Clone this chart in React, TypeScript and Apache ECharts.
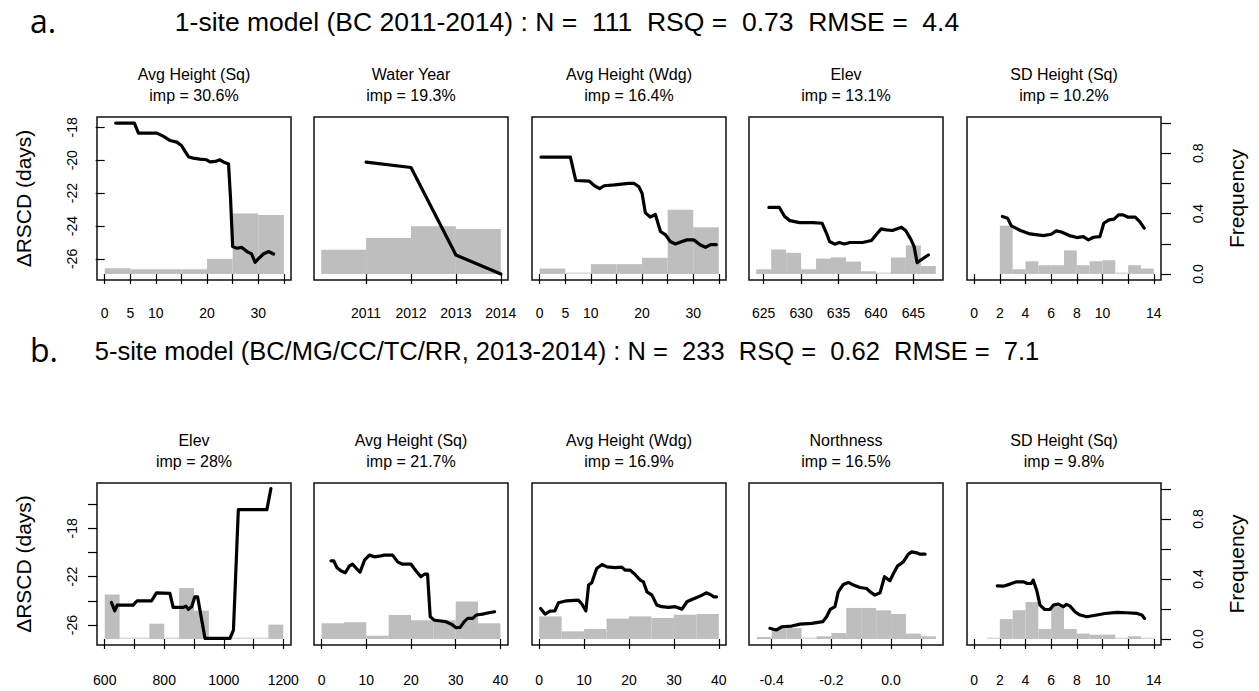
import React, { useEffect, useRef } from "react";
import * as echarts from "echarts";

// ---------- Data ----------
// Row a: 1-site model
const A1_LINE_X = [2.15, 5.8, 6.6, 10.2, 11.5, 12.8, 14.1, 15.0, 15.7, 16.4, 17.3, 18.6, 19.9, 20.6, 21.6, 22.5, 23.2, 24.2, 24.6, 25.0, 25.8, 26.8, 27.8, 28.4, 28.7, 29.4, 30.0, 31.0, 32.0, 33.0];
const A1_LINE_Y = [-17.74, -17.74, -18.35, -18.35, -18.55, -18.8, -18.9, -19.1, -19.46, -19.8, -19.87, -19.93, -19.97, -20.1, -20.07, -19.97, -20.1, -20.23, -22.4, -25.25, -25.35, -25.3, -25.55, -25.65, -25.7, -26.2, -26.0, -25.7, -25.55, -25.7];
const A1_EDGES = [0, 5, 10, 15, 20, 25, 30, 35];
const A1_FREQ = [0.038, 0.031, 0.031, 0.031, 0.1, 0.4, 0.39];

const A2_LINE_X = [2011, 2012, 2013, 2014];
const A2_LINE_Y = [-20.11, -20.44, -25.76, -26.91];
const A2_EDGES = [2010, 2011, 2012, 2013, 2014];
const A2_FREQ = [0.16, 0.238, 0.316, 0.298];

const A3_LINE_X = [0.26, 6.0, 7.05, 9.7, 10.7, 11.7, 12.6, 14.6, 17.4, 18.4, 19.35, 20.0, 20.65, 21.6, 22.6, 23.6, 24.6, 25.5, 26.5, 27.8, 28.8, 30.1, 31.4, 32.4, 33.4, 34.5];
const A3_LINE_Y = [-19.81, -19.81, -21.23, -21.27, -21.55, -21.72, -21.55, -21.5, -21.4, -21.4, -21.6, -22.0, -23.2, -23.45, -23.3, -24.33, -24.54, -24.94, -25.09, -24.94, -24.84, -24.84, -25.15, -25.29, -25.13, -25.13];
const A3_EDGES = [0, 5, 10, 15, 20, 25, 30, 35];
const A3_FREQ = [0.036, 0.007, 0.065, 0.065, 0.107, 0.425, 0.31];

const A4_LINE_X = [625.7, 627.1, 627.8, 628.5, 629.8, 631.6, 632.8, 633.4, 633.8, 634.5, 635.1, 635.8, 636.5, 638.2, 639.4, 640.0, 640.7, 641.4, 642.2, 643.4, 644.0, 644.7, 645.1, 645.5, 646.2, 647.0];
const A4_LINE_Y = [-22.87, -22.87, -23.42, -23.67, -23.79, -23.79, -23.83, -24.44, -24.94, -25.1, -25.0, -25.09, -25.0, -25.0, -24.88, -24.54, -24.17, -24.23, -24.27, -24.07, -24.29, -24.84, -25.25, -26.22, -26.0, -25.76];
const A4_EDGES = [624, 626, 628, 630, 632, 634, 636, 638, 640, 642, 644, 646, 648];
const A4_FREQ = [0.031, 0.162, 0.14, 0.031, 0.102, 0.11, 0.082, 0.018, 0.007, 0.109, 0.189, 0.053];

const A5_LINE_X = [2.2, 2.6, 2.9, 3.6, 4.35, 5.4, 6.0, 6.4, 6.8, 7.5, 8.0, 8.5, 8.9, 9.3, 9.8, 10.1, 10.5, 10.9, 11.25, 11.6, 12.0, 12.55, 12.9, 13.25];
const A5_LINE_Y = [-23.42, -23.52, -23.99, -24.27, -24.48, -24.58, -24.5, -24.29, -24.36, -24.6, -24.7, -24.64, -24.84, -24.68, -24.64, -23.83, -23.62, -23.58, -23.32, -23.32, -23.46, -23.46, -23.73, -24.13];
const A5_EDGES = [2, 3, 4, 5, 6, 7, 8, 9, 10, 11, 12, 13, 14];
const A5_FREQ = [0.32, 0.031, 0.084, 0.058, 0.058, 0.156, 0.058, 0.084, 0.091, 0.004, 0.058, 0.036];

// Row b: 5-site model
const B1_LINE_X = [622.5, 633.7, 641.6, 695.5, 709, 757.3, 774, 819, 830, 864, 873, 881, 892, 903, 912, 920, 937, 1021, 1032.6, 1049, 1145, 1158.4];
const B1_LINE_Y = [-24.13, -24.82, -24.35, -24.35, -23.99, -23.99, -23.33, -23.38, -24.54, -24.54, -24.43, -24.7, -24.48, -23.66, -23.66, -24.76, -27.1, -27.1, -26.41, -16.44, -16.44, -14.71];
const B1_EDGES = [600, 650, 700, 750, 800, 850, 900, 950, 1000, 1050, 1100, 1150, 1200];
const B1_FREQ = [0.296, 0, 0, 0.102, 0, 0.34, 0.189, 0, 0, 0, 0, 0.096];

const B2_LINE_X = [2.1, 2.7, 3.4, 4.3, 5.3, 6.2, 6.9, 7.8, 8.6, 9.6, 10.7, 11.8, 12.9, 14.0, 15.9, 17.0, 18.1, 20.0, 21.1, 22.2, 23.0, 23.7, 24.3, 25.2, 26.3, 27.8, 29.0, 30.1, 31.0, 31.9, 32.7, 33.8, 34.6, 36.0, 37.4, 38.7];
const B2_LINE_Y = [-20.68, -20.68, -21.23, -21.51, -21.67, -21.12, -20.96, -21.32, -21.62, -20.63, -20.21, -20.35, -20.3, -20.21, -20.21, -20.77, -20.96, -20.96, -21.51, -22.0, -21.79, -21.79, -25.31, -25.59, -25.64, -25.72, -25.92, -26.22, -26.19, -25.72, -25.45, -25.45, -25.17, -25.09, -24.98, -24.9];
const B2_EDGES = [0, 5, 10, 15, 20, 25, 30, 35, 40];
const B2_FREQ = [0.105, 0.112, 0.022, 0.16, 0.125, 0.125, 0.25, 0.105];

const B3_LINE_X = [0.3, 1.3, 2.4, 3.5, 4.3, 6.1, 8.7, 9.5, 10.4, 11.0, 11.7, 12.8, 14.0, 15.1, 16.9, 18.4, 19.1, 20.2, 21.3, 22.5, 23.2, 24.0, 25.1, 26.2, 27.3, 28.8, 30.3, 31.8, 32.9, 34.0, 35.1, 36.3, 37.2, 38.1, 38.9, 39.5];
const B3_LINE_Y = [-24.62, -25.09, -24.84, -24.82, -24.15, -23.99, -23.93, -24.26, -24.82, -22.69, -22.5, -21.32, -20.99, -21.18, -21.25, -21.2, -21.45, -21.45, -21.79, -22.28, -22.42, -23.25, -23.52, -24.35, -24.48, -24.54, -24.48, -24.68, -24.07, -23.88, -23.71, -23.52, -23.33, -23.47, -23.66, -23.66];
const B3_EDGES = [0, 5, 10, 15, 20, 25, 30, 35, 40];
const B3_FREQ = [0.151, 0.051, 0.067, 0.136, 0.151, 0.14, 0.162, 0.167];

const B4_LINE_X = [-0.406, -0.385, -0.366, -0.333, -0.305, -0.266, -0.229, -0.216, -0.204, -0.188, -0.177, -0.16, -0.143, -0.126, -0.104, -0.082, -0.07, -0.054, -0.037, -0.022, -0.004, 0.008, 0.022, 0.041, 0.058, 0.069, 0.086, 0.097, 0.114];
const B4_LINE_Y = [-26.27, -26.41, -26.14, -26.08, -25.92, -25.86, -25.72, -25.31, -24.71, -24.48, -23.25, -22.64, -22.47, -22.69, -22.89, -22.97, -23.25, -23.52, -23.33, -22.0, -22.34, -21.73, -21.1, -20.77, -20.13, -19.94, -20.02, -20.13, -20.13];
const B4_EDGES = [-0.45, -0.4, -0.35, -0.3, -0.25, -0.2, -0.15, -0.1, -0.05, 0.0, 0.05, 0.1, 0.15];
const B4_FREQ = [0.013, 0.073, 0.073, 0, 0.018, 0.04, 0.207, 0.207, 0.191, 0.167, 0.036, 0.018];

const B5_LINE_X = [1.8, 2.27, 2.79, 3.3, 3.83, 4.14, 4.43, 4.6, 4.87, 5.13, 5.5, 5.9, 6.17, 6.56, 6.95, 7.2, 7.47, 7.86, 8.26, 8.78, 9.56, 10.2, 11.1, 11.9, 12.7, 13.07, 13.28];
const B5_LINE_Y = [-22.75, -22.78, -22.61, -22.42, -22.42, -22.56, -22.56, -22.28, -23.11, -24.35, -24.71, -24.71, -24.35, -24.26, -24.48, -24.29, -24.43, -24.9, -25.17, -25.31, -25.17, -25.04, -24.95, -24.98, -25.04, -25.17, -25.45];
const B5_EDGES = [1, 2, 3, 4, 5, 6, 7, 8, 9, 10, 11, 12, 13, 14];
const B5_FREQ = [0.007, 0.133, 0.191, 0.247, 0.067, 0.218, 0.067, 0.036, 0.029, 0.029, 0, 0.018, 0.009];

// Titles and tick labels
const HEADER_A = "1-site model (BC 2011-2014) : N =  111  RSQ =  0.73  RMSE =  4.4";
const HEADER_B = "5-site model (BC/MG/CC/TC/RR, 2013-2014) : N =  233  RSQ =  0.62  RMSE =  7.1";
const TITLES_A = [["Avg Height (Sq)", "imp = 30.6%"], ["Water Year", "imp = 19.3%"], ["Avg Height (Wdg)", "imp = 16.4%"], ["Elev", "imp = 13.1%"], ["SD Height (Sq)", "imp = 10.2%"]];
const TITLES_B = [["Elev", "imp = 28%"], ["Avg Height (Sq)", "imp = 21.7%"], ["Avg Height (Wdg)", "imp = 16.9%"], ["Northness", "imp = 16.5%"], ["SD Height (Sq)", "imp = 9.8%"]];
const Y_TICKS_A = [-26, -24, -22, -20, -18];
const Y_LABELS_A = [-26, -24, -22, -20, -18];
const Y_TICKS_B = [-26, -24, -22, -20, -18, -16];
const Y_LABELS_B = [-26, -22, -18];
const FREQ_TICKS = [0, 0.2, 0.4, 0.6, 0.8, 1.0];
const FREQ_LABELS = [0, 0.4, 0.8];

const XT_HEIGHT = [0, 5, 10, 15, 20, 25, 30, 35];
const XL_HEIGHT = [0, 5, 10, 20, 30];
const XT_YEAR = [2011, 2012, 2013, 2014];
const XT_ELEV_A = [625, 630, 635, 640, 645];
const XT_SD = [0, 2, 4, 6, 8, 10, 12, 14];
const XL_SD = [0, 2, 4, 6, 8, 10, 14];
const XT_ELEV_B = [600, 700, 800, 900, 1000, 1100, 1200];
const XL_ELEV_B = [600, 800, 1000, 1200];
const XT_H40 = [0, 10, 20, 30, 40];
const XT_NORTH = [-0.4, -0.3, -0.2, -0.1, 0.0, 0.1];
const XL_NORTH = [-0.4, -0.2, 0.0];

// ---------- Layout ----------
const LEFTS = [97, 314, 532, 749, 967];
const PW = 194;
const TOPS = [117, 483];
const HS = [163, 162];
const Y_RANGE = [[-27.28, -17.37], [-27.65, -14.24]];
const FONT = '"Liberation Sans", Arial, sans-serif';

type Panel = {
  row: number; col: number; title: string[];
  xMin: number; xMax: number; xTicks: number[]; xLabels: number[];
  lx: number[]; ly: number[]; edges: number[]; freq: number[]; dec?: number;
};

const PANELS: Panel[] = [
  { row: 0, col: 0, title: TITLES_A[0], xMin: -1.5, xMax: 36.4, xTicks: XT_HEIGHT, xLabels: XL_HEIGHT, lx: A1_LINE_X, ly: A1_LINE_Y, edges: A1_EDGES, freq: A1_FREQ },
  { row: 0, col: 1, title: TITLES_A[1], xMin: 2009.84, xMax: 2014.16, xTicks: XT_YEAR, xLabels: XT_YEAR, lx: A2_LINE_X, ly: A2_LINE_Y, edges: A2_EDGES, freq: A2_FREQ },
  { row: 0, col: 2, title: TITLES_A[2], xMin: -1.5, xMax: 36.4, xTicks: XT_HEIGHT, xLabels: XL_HEIGHT, lx: A3_LINE_X, ly: A3_LINE_Y, edges: A3_EDGES, freq: A3_FREQ },
  { row: 0, col: 3, title: TITLES_A[3], xMin: 623.04, xMax: 648.96, xTicks: XT_ELEV_A, xLabels: XT_ELEV_A, lx: A4_LINE_X, ly: A4_LINE_Y, edges: A4_EDGES, freq: A4_FREQ },
  { row: 0, col: 4, title: TITLES_A[4], xMin: -0.56, xMax: 14.56, xTicks: XT_SD, xLabels: XL_SD, lx: A5_LINE_X, ly: A5_LINE_Y, edges: A5_EDGES, freq: A5_FREQ },
  { row: 1, col: 0, title: TITLES_B[0], xMin: 574, xMax: 1226, xTicks: XT_ELEV_B, xLabels: XL_ELEV_B, lx: B1_LINE_X, ly: B1_LINE_Y, edges: B1_EDGES, freq: B1_FREQ },
  { row: 1, col: 1, title: TITLES_B[1], xMin: -1.7, xMax: 41.7, xTicks: XT_H40, xLabels: XT_H40, lx: B2_LINE_X, ly: B2_LINE_Y, edges: B2_EDGES, freq: B2_FREQ },
  { row: 1, col: 2, title: TITLES_B[2], xMin: -1.6, xMax: 41.6, xTicks: XT_H40, xLabels: XT_H40, lx: B3_LINE_X, ly: B3_LINE_Y, edges: B3_EDGES, freq: B3_FREQ },
  { row: 1, col: 3, title: TITLES_B[3], xMin: -0.476, xMax: 0.174, xTicks: XT_NORTH, xLabels: XL_NORTH, lx: B4_LINE_X, ly: B4_LINE_Y, edges: B4_EDGES, freq: B4_FREQ, dec: 1 },
  { row: 1, col: 4, title: TITLES_B[4], xMin: -0.56, xMax: 14.56, xTicks: XT_SD, xLabels: XL_SD, lx: B5_LINE_X, ly: B5_LINE_Y, edges: B5_EDGES, freq: B5_FREQ },
];

function buildOption() {
  const grid: any[] = [];
  const xAxis: any[] = [];
  const yAxis: any[] = [];
  const series: any[] = [];
  const graphic: any[] = [];
  const tickStyle = { color: "#000", width: 1.2 };
  const TICK_FS = 14;

  PANELS.forEach((p, i) => {
    const top = TOPS[p.row];
    const h = HS[p.row];
    const left = LEFTS[p.col];
    grid.push({
      left, top, width: PW, height: h, show: true,
      borderColor: "#111", borderWidth: 1.5, backgroundColor: "transparent",
      containLabel: false, outerBoundsMode: "none",
    });
    xAxis.push({
      type: "value", gridIndex: i, min: p.xMin, max: p.xMax,
      axisLine: { show: false }, splitLine: { show: false },
      axisTick: { show: true, length: 10, lineStyle: tickStyle, customValues: p.xTicks },
      axisLabel: {
        show: true, customValues: p.xLabels, margin: p.row === 0 ? 26 : 28,
        color: "#000", fontSize: TICK_FS, fontFamily: FONT,
        formatter: (v: number) => (p.dec ? (Math.abs(v) < 1e-9 ? "0.0" : v.toFixed(p.dec)) : String(v)),
      },
    });
    const isFirst = p.col === 0;
    const isLast = p.col === 4;
    yAxis.push({
      type: "value", gridIndex: i, position: "left",
      min: Y_RANGE[p.row][0], max: Y_RANGE[p.row][1],
      axisLine: { show: false }, splitLine: { show: false },
      axisTick: { show: isFirst, length: 9, lineStyle: tickStyle, customValues: p.row === 0 ? Y_TICKS_A : Y_TICKS_B },
      axisLabel: {
        show: isFirst, customValues: p.row === 0 ? Y_LABELS_A : Y_LABELS_B, rotate: 90, margin: 18,
        color: "#000", fontSize: TICK_FS, fontFamily: FONT,
      },
    });
    yAxis.push({
      type: "value", gridIndex: i, position: "right", min: -0.04, max: 1.04,
      axisLine: { show: false }, splitLine: { show: false },
      axisTick: { show: isLast, length: 10, lineStyle: tickStyle, customValues: FREQ_TICKS },
      axisLabel: {
        show: isLast, customValues: FREQ_LABELS, rotate: 90, margin: 30,
        color: "#000", fontSize: TICK_FS, fontFamily: FONT,
        formatter: (v: number) => v.toFixed(1),
      },
    });
    const bins = p.freq.map((f, k) => [p.edges[k], p.edges[k + 1], f]);
    series.push({
      type: "custom", xAxisIndex: i, yAxisIndex: 2 * i + 1, silent: true, z: 1,
      encode: { x: [0, 1], y: 2 },
      data: bins,
      renderItem: (_params: any, api: any) => {
        const p0 = api.coord([api.value(0), 0]);
        const p1 = api.coord([api.value(1), api.value(2)]);
        let hh = p0[1] - p1[1];
        let fill = "#BEBEBE";
        if (hh < 1.5) { hh = 1.5; fill = "#D9D9D9"; }
        return {
          type: "rect",
          shape: { x: p0[0], y: p0[1] - hh, width: p1[0] - p0[0], height: hh },
          style: { fill },
        };
      },
    });
    series.push({
      type: "line", xAxisIndex: i, yAxisIndex: 2 * i, z: 3, silent: true,
      symbol: "none", showSymbol: false,
      data: p.lx.map((x, k) => [x, p.ly[k]]),
      lineStyle: { color: "#000", width: 3.2, join: "round", cap: "round" },
    });
    const cx = left + PW / 2;
    graphic.push({
      type: "text", x: cx, y: top - 43,
      style: { text: p.title[0], fill: "#000", font: `16px ${FONT}`, align: "center", verticalAlign: "middle", textAlign: "center", textVerticalAlign: "middle" },
    });
    graphic.push({
      type: "text", x: cx, y: top - 22,
      style: { text: p.title[1], fill: "#000", font: `16px ${FONT}`, align: "center", verticalAlign: "middle", textAlign: "center", textVerticalAlign: "middle" },
    });
  });

  const headers = [
    { letter: "a.", text: HEADER_A, y: 22, size: 26.5 },
    { letter: "b.", text: HEADER_B, y: 351, size: 25.5 },
  ];
  headers.forEach((hd) => {
    graphic.push({
      type: "text", x: 30, y: hd.y - 2,
      style: { text: hd.letter, fill: "#000", font: `32px "Open Sans", Lato, sans-serif`, align: "left", verticalAlign: "middle", textAlign: "left", textVerticalAlign: "middle" },
    });
    graphic.push({
      type: "text", x: 567, y: hd.y,
      style: { text: hd.text, fill: "#000", font: `${hd.size}px ${FONT}`, align: "center", verticalAlign: "middle", textAlign: "center", textVerticalAlign: "middle" },
    });
  });

  [0, 1].forEach((r) => {
    const cy = TOPS[r] + HS[r] / 2;
    graphic.push({
      type: "text", x: 23, y: cy, rotation: Math.PI / 2,
      style: { text: "\u0394RSCD (days)", fill: "#000", font: `21px ${FONT}`, align: "center", verticalAlign: "middle", textAlign: "center", textVerticalAlign: "middle" },
    });
    graphic.push({
      type: "text", x: 1236, y: cy, rotation: Math.PI / 2,
      style: { text: "Frequency", fill: "#000", font: `21px ${FONT}`, align: "center", verticalAlign: "middle", textAlign: "center", textVerticalAlign: "middle" },
    });
  });

  return {
    animation: false,
    backgroundColor: "#fff",
    grid, xAxis, yAxis, series, graphic,
  };
}

export default function App() {
  const ref = useRef<HTMLDivElement>(null);
  useEffect(() => {
    if (!ref.current) return;
    const chart = echarts.init(ref.current, null, { renderer: "svg" });
    chart.setOption(buildOption() as any);
    return () => chart.dispose();
  }, []);
  return (
    <div
      ref={ref}
      style={{ position: "fixed", left: 0, top: 0, width: 1259, height: 691, background: "#fff" }}
    />
  );
}
